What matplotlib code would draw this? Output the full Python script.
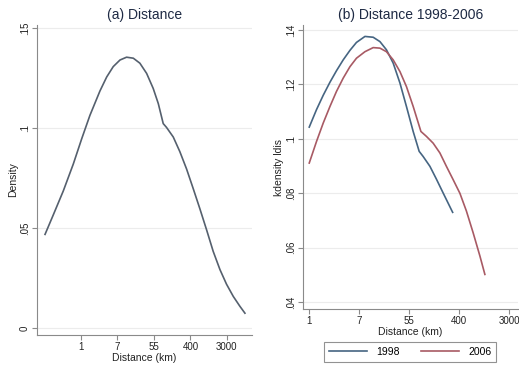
import numpy as np
import matplotlib
matplotlib.use('Agg')
import matplotlib.pyplot as plt

plt.rcParams['font.family'] = ['Liberation Sans', 'DejaVu Sans']

# 坐标轴刻度: x 轴是 ln(距离), 标签显示实际距离
tick_pos = [0, 2, 4, 6, 8]
tick_lab = ['1', '7', '55', '400', '3000']

# (a) 全样本距离密度
a_x = [-1.97, -1.52, -0.97, -0.42, 0.04, 0.49, 1.04, 1.41, 1.77, 2.14, 2.50, 2.87,
       3.23, 3.60, 3.96, 4.24, 4.51, 4.69, 5.06, 5.42, 5.79, 6.15, 6.52, 6.89,
       7.25, 7.62, 7.98, 8.35, 8.71, 8.99]
a_y = [0.0468, 0.0565, 0.0685, 0.0820, 0.0946, 0.1063, 0.1185, 0.1255, 0.1307, 0.1340,
       0.1354, 0.1349, 0.1324, 0.1273, 0.1198, 0.1122, 0.1022, 0.1003, 0.0955, 0.0882,
       0.0795, 0.0698, 0.0596, 0.0490, 0.0383, 0.0292, 0.0219, 0.0158, 0.0109, 0.0074]

# (b) 1998 与 2006
x98 = [0.00, 0.29, 0.56, 0.83, 1.09, 1.36, 1.63, 1.89, 2.23, 2.56, 2.83, 3.09,
       3.36, 3.63, 3.89, 4.16, 4.40, 4.56, 4.83, 5.09, 5.36, 5.74]
y98 = [0.1043, 0.1107, 0.1160, 0.1208, 0.1250, 0.1290, 0.1325, 0.1354, 0.1376, 0.1373,
       0.1357, 0.1327, 0.1278, 0.1205, 0.1119, 0.1027, 0.0954, 0.0935, 0.0899, 0.0852,
       0.0801, 0.0730]
x06 = [0.00, 0.29, 0.56, 0.83, 1.09, 1.36, 1.63, 1.89, 2.23, 2.56, 2.83, 3.09,
       3.36, 3.63, 3.89, 4.16, 4.47, 4.69, 4.96, 5.23, 5.49, 5.76, 6.03, 6.29,
       6.56, 6.83, 7.03]
y06 = [0.0911, 0.0990, 0.1058, 0.1119, 0.1174, 0.1223, 0.1265, 0.1296, 0.1320, 0.1335,
       0.1333, 0.1320, 0.1290, 0.1247, 0.1192, 0.1119, 0.1027, 0.1009, 0.0984, 0.0948,
       0.0899, 0.0850, 0.0800, 0.0735, 0.0655, 0.0570, 0.0502]

c_a = '#55606e'
c98 = '#466582'
c06 = '#a85a64'
c_txt = '#1e2a44'
c_ax = '#8a8a8a'

fig = plt.figure(figsize=(5.19, 3.66), dpi=100)
fig.patch.set_facecolor('white')


def style(ax, yticks, ylabs):
    for s in ['top', 'right']:
        ax.spines[s].set_visible(False)
    for s in ['left', 'bottom']:
        ax.spines[s].set_color(c_ax)
        ax.spines[s].set_linewidth(0.8)
    ax.set_xticks(tick_pos)
    ax.set_xticklabels(tick_lab)
    ax.set_yticks(yticks)
    ax.set_yticklabels(ylabs, rotation=90, va='center')
    ax.tick_params(colors=c_ax, labelcolor='#222222', labelsize=7, length=3.5, width=0.8, pad=1.5)
    ax.grid(axis='y', color='#ececec', linewidth=0.8)
    ax.set_axisbelow(True)
    ax.set_xlabel('Distance (km)', fontsize=7.5, color='#222222', labelpad=0.5)


ax1 = fig.add_axes([0.0713, 0.0847, 0.414, 0.847])
ax1.plot(a_x, a_y, color=c_a, lw=1.2)
ax1.set_xlim(-2.41, 9.37)
ax1.set_ylim(-0.0035, 0.1515)
style(ax1, [0, 0.05, 0.1, 0.15], ['0', '.05', '.1', '.15'])
ax1.set_ylabel('Density', fontsize=7.5, color='#222222', labelpad=1.5)
ax1.set_title('(a) Distance', fontsize=10, color=c_txt, pad=4)

ax2 = fig.add_axes([0.5838, 0.1557, 0.414, 0.776])
l1, = ax2.plot(x98, y98, color=c98, lw=1.2)
l2, = ax2.plot(x06, y06, color=c06, lw=1.2)
ax2.set_xlim(-0.25, 8.35)
ax2.set_ylim(0.0375, 0.1418)
style(ax2, [0.04, 0.06, 0.08, 0.1, 0.12, 0.14], ['.04', '.06', '.08', '.1', '.12', '.14'])
ax2.set_ylabel('kdensity ldis', fontsize=7.5, color='#222222', labelpad=1.5)
ax2.set_title('(b) Distance 1998-2006', fontsize=10, color=c_txt, pad=4)

leg = fig.legend([l1, l2], ['1998', '2006'], loc='center', bbox_to_anchor=(0.79, 0.038),
                 ncol=2, fontsize=7.5, frameon=True, fancybox=False, handlelength=3.7,
                 columnspacing=2.0, borderpad=0.45, handletextpad=0.85)
leg.get_frame().set_edgecolor('#777777')
leg.get_frame().set_linewidth(0.8)

fig.savefig('out.png', dpi=100)
